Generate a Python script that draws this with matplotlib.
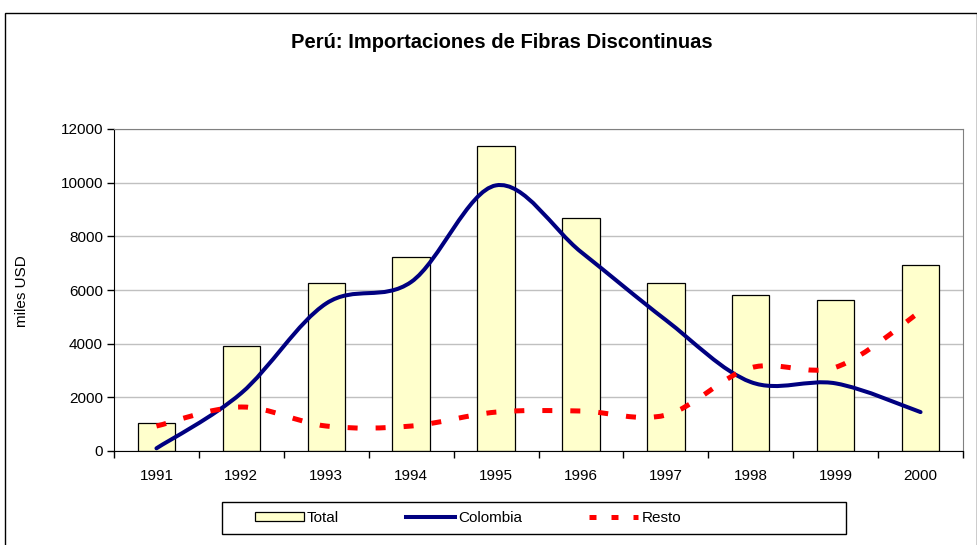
import numpy as np
import matplotlib
matplotlib.use("Agg")
import matplotlib.pyplot as plt
from matplotlib.path import Path
from matplotlib.patches import PathPatch, Rectangle, Patch
from matplotlib.lines import Line2D

plt.rcParams['font.family'] = ['Liberation Sans', 'DejaVu Sans']

years = ['1991', '1992', '1993', '1994', '1995', '1996', '1997', '1998', '1999', '2000']
total = [1050, 3900, 6270, 7230, 11350, 8690, 6270, 5820, 5630, 6940]
colombia = [100, 2160, 5500, 6300, 9900, 7420, 4880, 2570, 2520, 1450]
resto = [930, 1640, 930, 930, 1450, 1490, 1340, 3100, 3120, 5200]


def smooth_path(xs, ys):
    # Excel-style smoothed line: cubic Bezier through each point
    pts = np.column_stack([xs, ys]).astype(float)
    n = len(pts)
    verts = [pts[0]]
    codes = [Path.MOVETO]
    for i in range(n - 1):
        p0 = pts[max(i - 1, 0)]
        p1 = pts[i]
        p2 = pts[i + 1]
        p3 = pts[min(i + 2, n - 1)]
        c1 = p1 + (p2 - p0) / 6.0
        c2 = p2 - (p3 - p1) / 6.0
        verts += [c1, c2, p2]
        codes += [Path.CURVE4] * 3
    return Path(verts, codes)


fig = plt.figure(figsize=(9.78, 5.45), dpi=100)
ax = fig.add_axes([114 / 978, 1 - 451 / 545, (963 - 114) / 978, 322 / 545])

x = np.arange(len(years))
ax.bar(x, total, width=0.44, color='#FFFFCC', edgecolor='black', linewidth=0.9, zorder=2)

col_patch = PathPatch(smooth_path(x, colombia), fill=False, edgecolor='#000080',
                      linewidth=2.9, capstyle='round', transform=ax.transData, zorder=3)
ax.add_patch(col_patch)
res_patch = PathPatch(smooth_path(x, resto), fill=False, edgecolor='#FF0000',
                      linewidth=3.6, linestyle=(0, (2.0, 3.6)), capstyle='butt',
                      transform=ax.transData, zorder=4)
ax.add_patch(res_patch)

ax.set_xlim(-0.5, len(years) - 0.5)
ax.set_ylim(0, 12000)
ax.set_yticks(range(0, 12001, 2000))
ax.yaxis.grid(True, color='#c0c0c0', linewidth=1.0, zorder=0)
ax.set_axisbelow(True)

ax.set_xticks(x)
ax.set_xticklabels(years, fontsize=11)
ax.set_xticks(np.arange(-0.5, len(years), 1.0), minor=True)
ax.tick_params(axis='x', which='major', length=0, pad=13)
ax.tick_params(axis='x', which='minor', length=5, width=1, color='black')
ax.tick_params(axis='y', length=5, width=1, labelsize=11, pad=3)

for s in ['top', 'right']:
    ax.spines[s].set_color('#808080')
for s in ['left', 'bottom']:
    ax.spines[s].set_color('black')

fig.text(22 / 978, 1 - 291 / 545, 'miles USD', rotation=90, va='center', ha='center', fontsize=11)
fig.text(502 / 978, 1 - 42 / 545, 'Perú: Importaciones de Fibras Discontinuas',
         ha='center', va='center', fontsize=14.5, fontweight='bold')

# outer chart border
fig.patches.append(Rectangle((5 / 978, -0.01), 972 / 978, 1 - 13 / 545 + 0.01, fill=False,
                             edgecolor='black', linewidth=1.0, transform=fig.transFigure))

# legend box
fig.patches.append(Rectangle((222 / 978, 1 - 534 / 545), (846 - 222) / 978, 32 / 545, fill=False,
                             edgecolor='black', linewidth=1.0, transform=fig.transFigure))

handles = [Patch(facecolor='#FFFFCC', edgecolor='black', linewidth=0.9),
           Line2D([], [], color='#000080', linewidth=2.9),
           Line2D([], [], color='#FF0000', linewidth=3.6, linestyle=(0, (1.4, 3.0)))]
leg = fig.legend(handles, ['Total', 'Colombia', 'Resto'], ncol=3,
                 bbox_to_anchor=(255 / 978, 1 - 518 / 545), loc='center left',
                 fontsize=11, frameon=False, handlelength=3.2, handleheight=0.55,
                 borderaxespad=0, borderpad=0, handletextpad=0.2, columnspacing=4.4)

fig.savefig('out.png', dpi=100)
